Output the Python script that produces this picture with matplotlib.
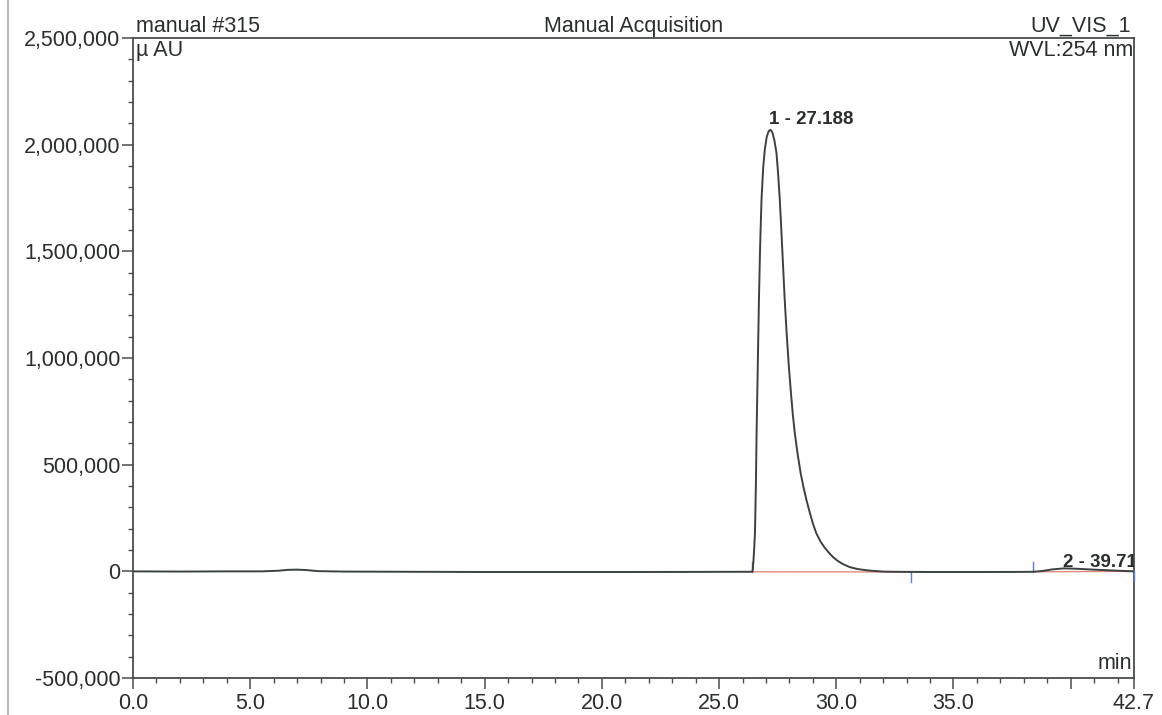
import matplotlib
matplotlib.use("Agg")
import matplotlib.pyplot as plt
from matplotlib.lines import Line2D
import numpy as np

# Chromatogram trace: retention time (min) and detector signal (µAU)
time_min = [0.0, 2.0, 4.0, 5.5, 6.2, 6.6, 7.0, 7.4, 7.9, 9.0, 12.0, 15.0, 18.0,
            21.0, 24.0, 26.0,
            26.40, 26.43, 26.46, 26.50, 26.53, 26.57, 26.60, 26.65, 26.70,
            26.75, 26.81, 26.88, 26.95, 27.03, 27.11, 27.19,
            27.27, 27.36, 27.45, 27.52, 27.59, 27.66, 27.73, 27.80, 27.88,
            27.97, 28.07, 28.15, 28.23, 28.35, 28.48, 28.60, 28.73, 28.87,
            29.00, 29.15, 29.32, 29.50, 29.68, 29.86, 30.05, 30.25, 30.57,
            30.90, 31.29, 31.65, 31.99,
            32.5, 34.0, 36.0, 38.0, 38.4, 38.8, 39.2, 39.71, 40.3, 41.0,
            41.8, 42.7]
signal_uau = [0, -1000, 0, 0, 3000, 7000, 8000, 6000, 1000, -1000, -2000, -3000,
              -3000, -3000, -2500, -2000,
              -2000, 0, 40000, 110000, 178000, 400000, 648000, 960000, 1272000,
              1520000, 1742000, 1890000, 1977000, 2035000, 2062000, 2070000,
              2058000, 2020000, 1960000, 1860000, 1742000, 1590000, 1430000,
              1272000, 1120000, 970000, 830000, 730000, 648000, 550000, 460000,
              395000, 333000, 275000, 225000, 178000, 141000, 112000, 88000,
              67000, 50000, 36000, 20000, 11000, 5000, 1500, -1000,
              -2000, -3000, -3000, -2500, -2000, 2000, 9000, 14000, 12000,
              8000, 4000, 0]

# Integrated peaks: name, retention time, apex height, baseline limits
peak_names = ["1 - 27.188", "2 - 39.71"]
peak_rt = [27.188, 39.71]
peak_height = [2070000, 14000]
peak_start = [26.40, 38.4]
peak_end = [33.2, 42.7]
peak_start_level = [-2000, -2000]
peak_end_level = [-3000, 0]
label_offsets = [(-1, 1), (-1, -2)]

x_major = [0.0, 5.0, 10.0, 15.0, 20.0, 25.0, 30.0, 35.0, 40.0, 42.7]
x_major_labels = ["0.0", "5.0", "10.0", "15.0", "20.0", "25.0", "30.0", "35.0", "", "42.7"]
y_major = [-500000, 0, 500000, 1000000, 1500000, 2000000, 2500000]

plt.rcParams["font.family"] = ["Liberation Sans", "DejaVu Sans"]
text_color = "#2b2e2e"
axis_color = "#4a4d4d"
fs = 15.5

fig = plt.figure(figsize=(11.62, 7.15), dpi=100)
ax = fig.add_axes([0.1145, 0.0517, 0.8614, 0.8952])

ax.plot(time_min, signal_uau, color="#3c4242", lw=1.4, zorder=3)

# Integration baselines and delimiters
for s, e, ls, le in zip(peak_start, peak_end, peak_start_level, peak_end_level):
    ax.plot([s, e], [ls, le], color="#e58a7a", lw=1.0, zorder=2)
delim = "#5a7fd6"
ax.plot([peak_start[0]] * 2, [peak_start_level[0], peak_start_level[0] + 45000],
        color=delim, lw=1.0, zorder=2)
ax.plot([peak_end[0]] * 2, [peak_end_level[0], peak_end_level[0] - 45000],
        color=delim, lw=1.0, zorder=2)
ax.plot([peak_start[1]] * 2, [peak_start_level[1], peak_start_level[1] + 45000],
        color=delim, lw=1.0, zorder=2)
ax.plot([peak_end[1]] * 2, [peak_end_level[1], peak_end_level[1] - 45000],
        color=delim, lw=1.0, zorder=4, clip_on=False)

for name, rt, h, off in zip(peak_names, peak_rt, peak_height, label_offsets):
    ax.annotate(name, (rt, h), xytext=off, textcoords="offset points",
                ha="left", va="bottom", fontsize=13.5, fontweight="bold",
                color=text_color, annotation_clip=False, clip_on=True)

ax.set_xlim(0, 42.7)
ax.set_ylim(-500000, 2500000)

ax.set_xticks(x_major)
ax.set_xticklabels(x_major_labels)
ax.set_xticks([m for m in range(1, 43) if m % 5 != 0], minor=True)
ax.set_yticks(y_major)
ax.set_yticklabels([f"{v:,}" for v in y_major])
ax.set_yticks(np.arange(-500000, 2500001, 100000), minor=True)

ax.tick_params(axis="x", which="major", direction="out", length=8, width=1.1,
               pad=3, labelsize=fs, colors=axis_color, labelcolor=text_color)
ax.tick_params(axis="x", which="minor", direction="out", length=3.5, width=1.0,
               colors=axis_color)
ax.tick_params(axis="y", which="major", direction="out", length=8, width=1.1,
               pad=1, labelsize=fs, colors=axis_color, labelcolor=text_color)
ax.tick_params(axis="y", which="minor", direction="out", length=3.5, width=1.0,
               colors=axis_color)

for sp in ax.spines.values():
    sp.set_color(axis_color)
    sp.set_linewidth(1.3)

# Header and unit annotations
ax.text(0.003, 1.002, "manual #315", transform=ax.transAxes, ha="left", va="bottom",
        fontsize=fs, color=text_color)
ax.text(0.5, 1.002, "Manual Acquisition", transform=ax.transAxes, ha="center",
        va="bottom", fontsize=fs, color=text_color)
ax.text(0.997, 1.002, "UV_VIS_1", transform=ax.transAxes, ha="right", va="bottom",
        fontsize=fs, color=text_color)
ax.text(0.003, 0.997, "µ AU", transform=ax.transAxes, ha="left", va="top",
        fontsize=fs, color=text_color)
ax.text(0.999, 0.997, "WVL:254 nm", transform=ax.transAxes, ha="right", va="top",
        fontsize=fs, color=text_color)
ax.text(0.998, 0.006, "min", transform=ax.transAxes, ha="right", va="bottom",
        fontsize=fs, color=text_color)

# Faint scanner edge at the left margin
fig.add_artist(Line2D([0.0072, 0.0072], [0.0, 1.0], transform=fig.transFigure,
                      color="#b8b8b8", lw=1.5))

fig.savefig("out.png", dpi=100, facecolor="white")
